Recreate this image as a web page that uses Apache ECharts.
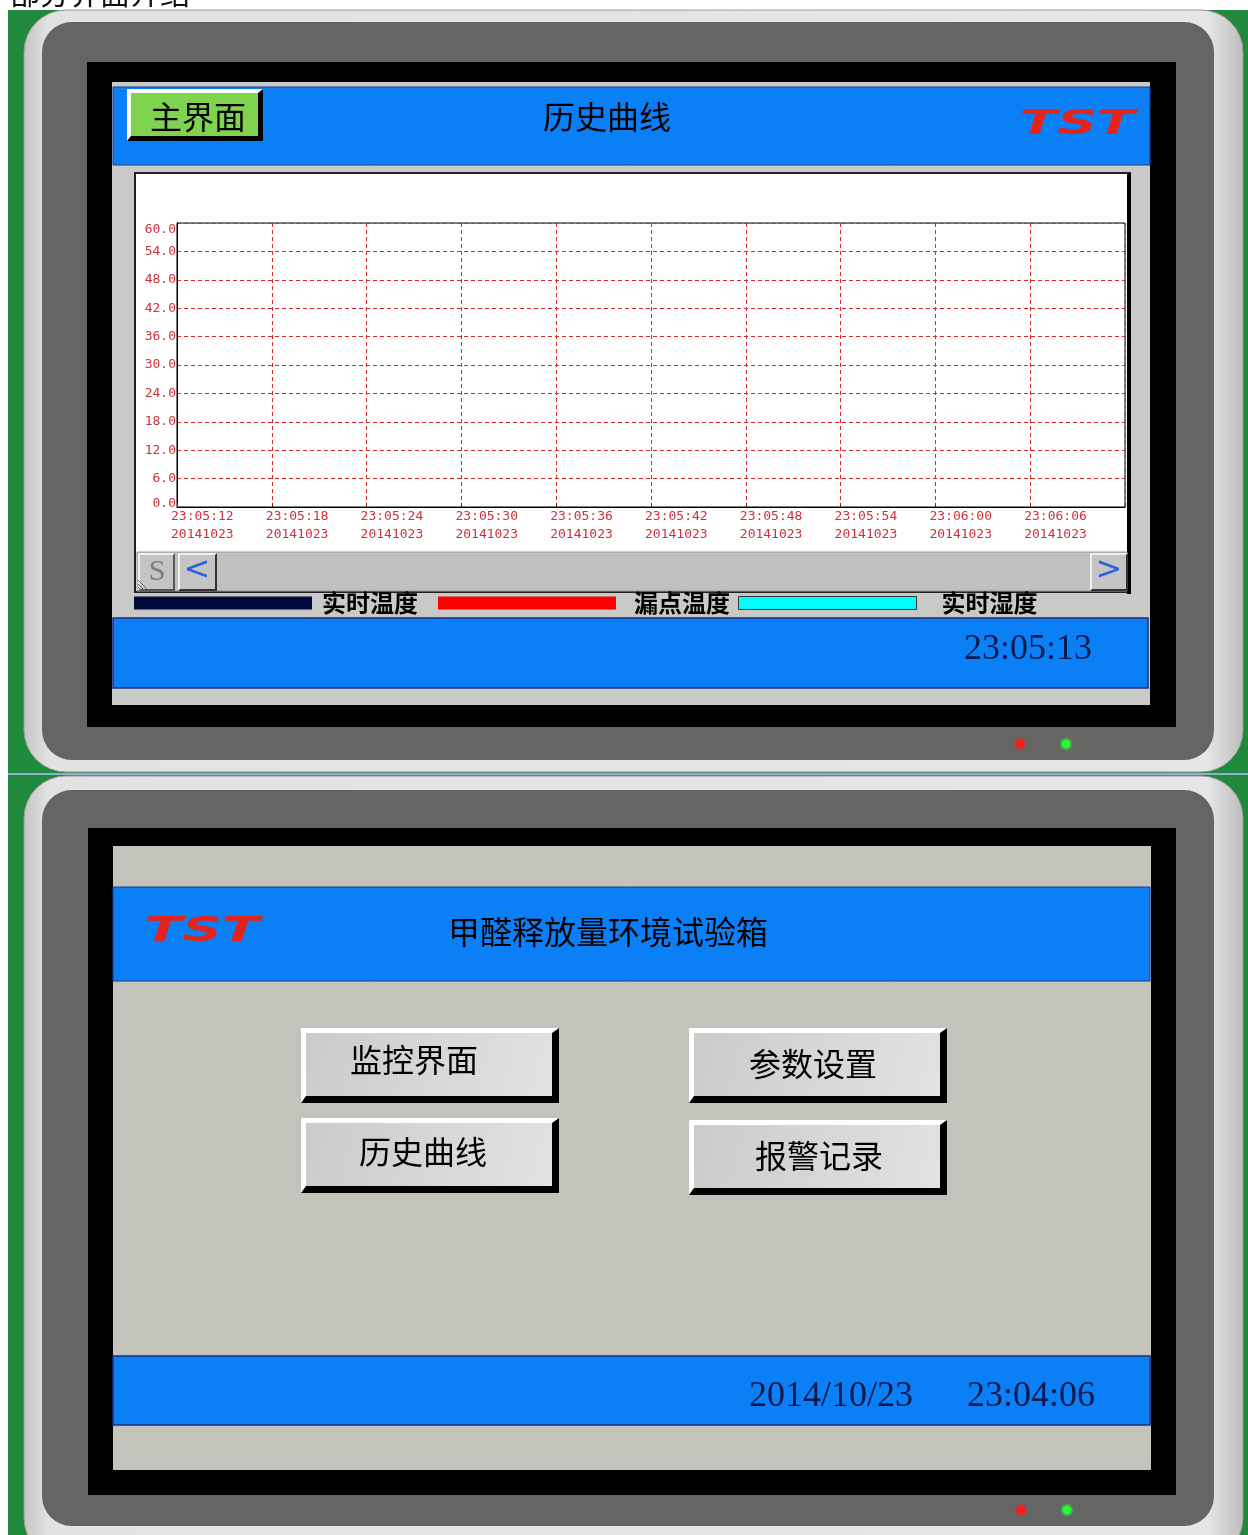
<!DOCTYPE html>
<html><head><meta charset="utf-8">
<script src="https://cdn.jsdelivr.net/npm/echarts@6/dist/echarts.min.js"></script>
<style>html,body{margin:0;padding:0;background:#fff}#c{width:1248px;height:1535px}</style>
</head><body><div id="c"></div>
<script>
// ---- data ----
const timeLabels = ['23:05:12','23:05:18','23:05:24','23:05:30','23:05:36','23:05:42','23:05:48','23:05:54','23:06:00','23:06:06'];
const dateLabels = ['20141023','20141023','20141023','20141023','20141023','20141023','20141023','20141023','20141023','20141023'];
const xMin = 0, xMax = 60, xStep = 6;          // seconds shown across the trend window
const yMin = 0, yMax = 60, yStep = 6;
const seriesNames = ['实时温度','漏点温度','实时湿度'];
const realTemp = [];   // no samples recorded in the screenshot
const dewTemp = [];
const realHumid = [];
const pageHeading = '部分界面介绍';
const topTitle = '历史曲线';
const homeButton = '主界面';
const topClock = '23:05:13';
const bottomTitle = '甲醛释放量环境试验箱';
const menuButtons = ['监控界面','历史曲线','参数设置','报警记录'];
const bottomDate = '2014/10/23';
const bottomClock = '23:04:06';
const logoText = 'TST';

// ---- styles ----
const BLUE = '#0b80f6';
const CJK = '"Noto Sans CJK SC", sans-serif';
const SERIF = '"Liberation Serif", "DejaVu Serif", serif';
const MONO = '"DejaVu Sans Mono", monospace';
const AXIS_RED = '#c8323c';
const GRID_RED = '#d42a2a';

const els = [];
function R(x, y, w, h, fill, extra) {
  els.push({type:'rect', shape:Object.assign({x, y, width:w, height:h}, extra && extra.shape || {}),
    style:Object.assign({fill}, extra && extra.style || {})});
}
function P(points, fill) { els.push({type:'polygon', shape:{points}, style:{fill}}); }
function L(x1, y1, x2, y2, c, w) { els.push({type:'line', shape:{x1, y1, x2, y2}, style:{stroke:c, lineWidth:w || 1}}); }
function T(x, y, text, size, opts) {
  const st = Object.assign({text, fontSize:size, fontFamily:CJK, fill:'#000',
    textAlign:'center', textVerticalAlign:'middle', align:'center', verticalAlign:'middle'}, opts || {});
  const e = {type:'text', x, y, style:st};
  if (opts && opts.scaleX) { e.scaleX = opts.scaleX; }
  els.push(e);
}
function bevel(x, y, w, h, b1, b2, hl, sh, face) {
  R(x, y, w, h, sh);
  P([[x,y],[x+w,y],[x+w-b2,y+b1],[x+b1,y+b1],[x+b1,y+h-b2],[x,y+h]], hl);
  R(x+b1, y+b1, w-b1-b2, h-b1-b2, face);
}
function led(cx, cy, c) {
  els.push({type:'circle', shape:{cx, cy, r:8}, style:{fill:{type:'radial', x:0.5, y:0.5, r:0.5,
    colorStops:[{offset:0, color:c},{offset:0.45, color:c},{offset:1, color:'rgba(100,100,100,0)'}]}}});
}
function bezel(y0, y1, iy0, iy1) {
  R(24, y0, 1219, y1-y0, {type:'linear', x:0, y:0, x2:1, y2:0, colorStops:[
    {offset:0, color:'#c4c4c4'},{offset:0.02, color:'#e2e2e2'},{offset:0.97, color:'#e6e6e6'},{offset:1, color:'#bdbdbd'}]},
    {shape:{r:42}, style:{stroke:'#9a9a9a', lineWidth:1}});
  R(42, iy0, 1172, iy1-iy0, '#656563', {shape:{r:30}});
}
function logo(cx, cy) {
  T(cx, cy, logoText, 34, {fontFamily:'"DejaVu Sans", sans-serif', fontWeight:'bold', fontStyle:'italic', fill:'#e2241c', scaleX:1.62});
}

// background
R(8, 10, 1240, 1525, '#1f8a3c');
T(10, 8, pageHeading, 30, {textAlign:'left', align:'left', textVerticalAlign:'bottom', verticalAlign:'bottom', fill:'#111'});

// ---------- top panel ----------
bezel(10, 772, 22, 760);
R(87, 62, 1089, 665, '#000');
R(112, 82, 1038, 623, '#c9c9c7');
R(113, 87, 1037, 78, BLUE, {style:{stroke:'#1c3c8c', lineWidth:1}});
bevel(127, 89, 136, 52, 4, 5, '#ffffff', '#000000', '#7fd34f');
T(198, 117, homeButton, 32);
T(607, 117, topTitle, 32);
logo(1077, 125);
// chart frame
R(135, 173, 995, 419, '#ffffff', {style:{stroke:'#222', lineWidth:2}});
R(1127, 173, 4, 421, '#000');
R(137, 552, 990, 39, '#c0c0c0', {style:{stroke:'#9a9a9a', lineWidth:1}});
bevel(138, 553, 37, 38, 2, 2, '#f0f0f0', '#555', '#c4c4c4');
T(157, 572, 'S', 30, {fontFamily:SERIF, fill:'#7c7c7c'});
L(138, 580, 149, 591, '#666', 1); L(138, 584, 145, 591, '#666', 1); L(138, 587, 142, 591, '#666', 1);
bevel(178, 553, 39, 38, 2, 2, '#f0f0f0', '#333', '#c4c4c4');
T(197, 571, '<', 32, {fontFamily:'"DejaVu Sans", sans-serif', fill:'#2a62e0'});
bevel(1090, 553, 38, 38, 2, 2, '#f0f0f0', '#333', '#c4c4c4');
T(1109, 571, '>', 32, {fontFamily:'"DejaVu Sans", sans-serif', fill:'#2a62e0'});
// status bar
R(113, 618, 1035, 70, BLUE, {style:{stroke:'#1c2c80', lineWidth:1.5}});
T(1028, 650, topClock, 36, {fontFamily:SERIF, fill:'#0c1a4e'});
led(1020, 744, '#ff1a1a');
led(1066, 744, '#22ff33');

// separator between the two photos
R(8, 773, 1240, 2, '#8fb0cc');

// ---------- bottom panel ----------
bezel(776, 1560, 790, 1526);
R(88, 828, 1088, 667, '#000');
R(113, 846, 1038, 624, '#c3c3bb');
R(113, 887, 1037, 94, BLUE, {style:{stroke:'#1c3c8c', lineWidth:1}});
logo(202, 932);
T(608, 932, bottomTitle, 32);
const btnBoxes = [[301,1028],[301,1118],[689,1028],[689,1120]];
const btnText = [[414,1060],[423,1152],[813,1064],[819,1156]];
menuButtons.forEach((t, i) => {
  const [x, y] = btnBoxes[i];
  bevel(x, y, 258, 75, 5, 7, '#ffffff', '#000000',
    {type:'linear', x:0, y:0, x2:1, y2:1, colorStops:[{offset:0, color:'#cbcbcb'},{offset:1, color:'#e2e2e2'}]});
  T(btnText[i][0], btnText[i][1], t, 32);
});
R(113, 1356, 1037, 69, BLUE, {style:{stroke:'#1c2c80', lineWidth:1.5}});
T(831, 1397, bottomDate, 36, {fontFamily:SERIF, fill:'#0c1a4e'});
T(1031, 1397, bottomClock, 36, {fontFamily:SERIF, fill:'#0c1a4e'});
led(1021, 1510, '#ff1a1a');
led(1067, 1510, '#22ff33');

els.forEach((e, i) => { e.z = -2000 + i; e.silent = true; });

// ---------- chart ----------
const chart = echarts.init(document.getElementById('c'), null, {renderer:'canvas'});
const legendBase = {orient:'horizontal', top:591, padding:0, itemWidth:178, itemHeight:13, icon:'rect',
  selectedMode:false, textStyle:{fontSize:24, fontWeight:'bold', fontFamily:CJK, color:'#000'}};
const xRich = {color:AXIS_RED, fontFamily:MONO, fontSize:13, lineHeight:18, width:6, align:'left'};
chart.setOption({
  animation:false,
  backgroundColor:'#ffffff',
  graphic:{elements:els},
  grid:{left:177, top:223, width:948, height:284, show:true, borderColor:'#000', borderWidth:1, backgroundColor:'#fff'},
  legend:[
    Object.assign({}, legendBase, {left:134, data:[seriesNames[0]], textStyle:Object.assign({}, legendBase.textStyle, {padding:[3,0,0,5]})}),
    Object.assign({}, legendBase, {left:438, data:[seriesNames[1]], textStyle:Object.assign({}, legendBase.textStyle, {padding:[3,0,0,13]})}),
    Object.assign({}, legendBase, {left:738, data:[{name:seriesNames[2], itemStyle:{borderColor:'#333', borderWidth:1}}], textStyle:Object.assign({}, legendBase.textStyle, {padding:[3,0,0,20]})})
  ],
  xAxis:{type:'value', min:xMin, max:xMax, interval:xStep,
    axisLine:{show:true, lineStyle:{color:'#000', width:1}},
    axisTick:{show:true, inside:true, length:4, lineStyle:{color:'#8a1a1a'}},
    axisLabel:{color:AXIS_RED, fontFamily:MONO, fontSize:13, lineHeight:18, margin:1, align:'right',
      showMinLabel:true, showMaxLabel:true, hideOverlap:false,
      formatter:v => { const i = Math.round((v - xMin) / xStep); return i < timeLabels.length ? '{a|' + timeLabels[i] + '}\n{a|' + dateLabels[i] + '}' : ''; },
      rich:{a:xRich}},
    splitLine:{show:true, lineStyle:{color:GRID_RED, type:[4,3], width:1}}},
  yAxis:{type:'value', min:yMin, max:yMax, interval:yStep,
    axisLine:{show:true, lineStyle:{color:'#000', width:1}},
    axisTick:{show:false},
    axisLabel:{color:AXIS_RED, fontFamily:MONO, fontSize:13, margin:1, showMinLabel:true, showMaxLabel:true,
      formatter:v => { const s = v.toFixed(1); return v === yMax ? '{t|' + s + '}' : (v === yMin ? '{b|' + s + '}' : s); },
      rich:{t:{padding:[14,0,0,0], color:AXIS_RED, fontFamily:MONO, fontSize:13}, b:{padding:[0,0,6,0], color:AXIS_RED, fontFamily:MONO, fontSize:13}}},
    splitLine:{show:true, lineStyle:{color:GRID_RED, type:[4,3], width:1}}},
  series:[
    {name:seriesNames[0], type:'line', data:realTemp, color:'#000a3c', showSymbol:false},
    {name:seriesNames[1], type:'line', data:dewTemp, color:'#ff0000', showSymbol:false},
    {name:seriesNames[2], type:'line', data:realHumid, color:'#00ffff', showSymbol:false}
  ]
});
</script></body></html>
